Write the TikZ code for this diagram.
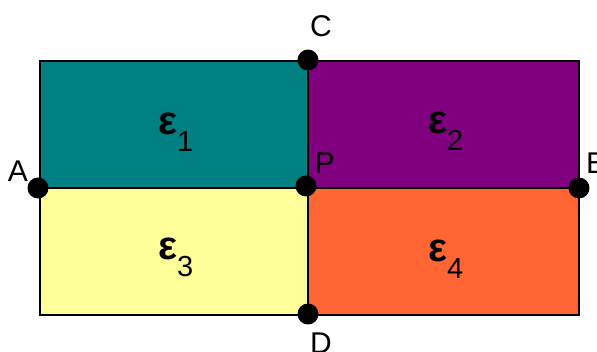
\documentclass[tikz,border=0pt]{standalone}
\usepackage{fontspec}
\setmainfont{Liberation Sans}
\usetikzlibrary{positioning}
\definecolor{tealbox}{RGB}{0,128,128}
\definecolor{purplebox}{RGB}{128,0,128}
\definecolor{yellowbox}{RGB}{255,255,153}
\definecolor{orangebox}{RGB}{255,102,51}
\tikzset{
    point node/.style={circle, fill=black, minimum size=21pt, inner sep=0pt},
    point label/.style={font=\fontsize{30}{30}\selectfont, inner sep=0pt, text=black},
    eps label/.style={anchor=base west, inner sep=0pt, text=black},
    grid line/.style={draw=black, line width=1.3pt},
}
\newcommand{\epsreg}[1]{{\fontsize{40}{40}\selectfont\bfseries ε}\raisebox{-17pt}{\fontsize{29}{29}\selectfont #1}}

\begin{document}
\begin{tikzpicture}[x=1pt, y=-1pt]
    \useasboundingbox (0,0) rectangle (597,352);
    % regions
    \fill[tealbox] (40,61) rectangle (308,188);
    \fill[purplebox] (308,61) rectangle (579,188);
    \fill[yellowbox] (40,188) rectangle (308,315);
    \fill[orangebox] (308,188) rectangle (579,315);
    \draw[grid line] (40,61) rectangle (579,315);
    % points
    \node[point node] (A) at (38,188) {};
    \node[point node] (B) at (579,188) {};
    \node[point node] (C) at (308,60) {};
    \node[point node] (D) at (308,314) {};
    \node[point node] (P) at (306,186) {};
    \draw[grid line] (A.center) -- (B.center);
    \draw[grid line] (C.center) -- (D.center);
    % labels
    \node[point label] (lA) at (18,171) {A};
    \node[point label, anchor=west] (lB) at (586,163) {B};
    \node[point label] (lC) at (321,26) {C};
    \node[point label] (lD) at (321,343) {D};
    \node[point label] (lP) at (325,163) {P};
    \node[eps label] (e1) at (158,135) {\epsreg{1}};
    \node[eps label] (e2) at (428,134) {\epsreg{2}};
    \node[eps label] (e3) at (158,260) {\epsreg{3}};
    \node[eps label] (e4) at (428,262) {\epsreg{4}};
\end{tikzpicture}
\end{document}
